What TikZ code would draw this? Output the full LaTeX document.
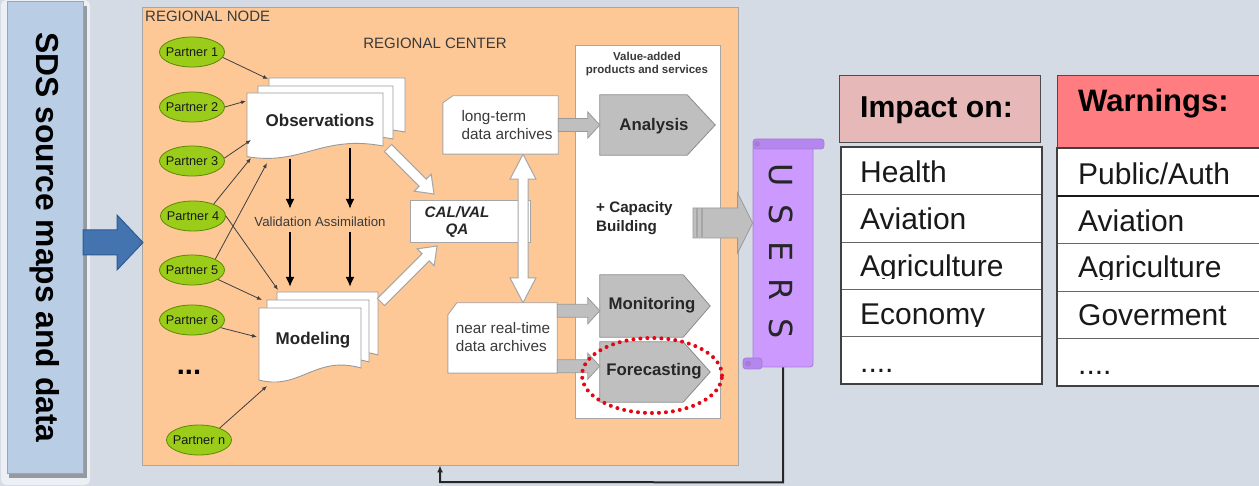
\documentclass[tikz,border=0pt]{standalone}
\usepackage{fontspec}
\setmainfont{Liberation Sans}
\newfontfamily\usersfont[WordSpace=1.7]{DejaVu Sans}
\usetikzlibrary{calc,shapes.geometric,arrows.meta}
\definecolor{bgc}{HTML}{D5DBE5}
\definecolor{panelc}{HTML}{B9CDE5}
\definecolor{panelb}{HTML}{8FA8C8}
\definecolor{bluearr}{HTML}{4474B0}
\definecolor{bluearrb}{HTML}{2F5A8F}
\definecolor{orangec}{HTML}{FDC896}
\definecolor{pgreen}{HTML}{9BCC1A}
\definecolor{pgreenb}{HTML}{5A8A00}
\definecolor{greyarr}{HTML}{BFBFBF}
\definecolor{purplec}{HTML}{CC99FF}
\definecolor{purpleb}{HTML}{A57BD8}
\definecolor{purpled}{HTML}{B586EE}
\definecolor{impc}{HTML}{E6B9B8}
\definecolor{warnc}{HTML}{FF7C80}
\definecolor{txtgrey}{HTML}{3A3A3A}
\definecolor{dotred}{HTML}{E30613}
\newcommand\fs[2]{\fontsize{#1}{#2}\selectfont}
% block arrow: style, from, to, shaft half width, head half width, head length
\newcommand\blockarrow[6]{%
  \coordinate (bahead) at ($(#3)!#6pt!(#2)$);
  \draw[#1] ($(#2)!#4pt!90:(#3)$) -- ($(bahead)!#4pt!90:(#3)$) -- ($(bahead)!#5pt!90:(#3)$) -- (#3)
    -- ($(bahead)!#5pt!-90:(#3)$) -- ($(bahead)!#4pt!-90:(#3)$) -- ($(#2)!#4pt!-90:(#3)$) -- cycle;}
\newcommand\dblockarrow[6]{%
  \coordinate (dahA) at ($(#2)!#6pt!(#3)$);
  \coordinate (dahB) at ($(#3)!#6pt!(#2)$);
  \draw[#1] (#2) -- ($(dahA)!#5pt!90:(#3)$) -- ($(dahA)!#4pt!90:(#3)$) -- ($(dahB)!#4pt!90:(#3)$)
    -- ($(dahB)!#5pt!90:(#3)$) -- (#3) -- ($(dahB)!#5pt!-90:(#3)$) -- ($(dahB)!#4pt!-90:(#3)$)
    -- ($(dahA)!#4pt!-90:(#3)$) -- ($(dahA)!#5pt!-90:(#3)$) -- cycle;}
% document shape: x y w h
\newcommand\docshape[4]{%
  \draw[docst] (#1,#2) -- ({#1+#3},#2) -- ({#1+#3},{#2+#4})
    .. controls ({#1+0.55*#3},{#2+0.78*#4}) and ({#1+0.4*#3},{#2+1.38*#4}) .. (#1,{#2+1.2*#4}) -- cycle;}
% pentagon product shape around a named node: node name, pointer length
\newcommand\prodshape[2]{%
  \draw[prodst] (#1.north west) -- ($(#1.north east)+(-#2,0)$) -- (#1.east) -- ($(#1.south east)+(-#2,0)$) -- (#1.south west) -- cycle;}
\begin{document}
\begin{tikzpicture}[x=1pt,y=-1pt,
  docst/.style={draw=black!40, fill=white, line width=0.9},
  partner/.style={ellipse, draw=pgreenb, fill=pgreen, line width=0.8, minimum width=65pt, minimum height=30pt,
     inner xsep=-4pt, inner ysep=0pt, font=\fs{12.7}{14}, text=black!90},
  pconn/.style={draw=black!75, line width=0.8, -{Latex[length=5pt,width=4pt]}},
  varr/.style={draw=black, line width=2, -{Latex[length=10pt,width=9pt]}},
  warr/.style={draw=black!35, fill=white, line width=1},
  garr/.style={draw=black!40, fill=greyarr, line width=0.8},
  boxst/.style={draw=black!35, fill=white, line width=0.9},
  prodst/.style={draw=black!45, fill=greyarr, line width=0.8},
  prodbox/.style={inner sep=0pt},
  prodtxt/.style={font=\bfseries\fs{16.8}{19}, text=black!85, inner sep=0pt},
  archtxt/.style={font=\fs{15.3}{18}, text=txtgrey, align=left, inner sep=0pt},
  rowbox/.style={draw=black!60, fill=white, line width=1, anchor=north west, inner sep=0pt},
  rowtxt/.style={font=\fs{30}{34}, text=black!90, anchor=base west, inner sep=0pt}]
\useasboundingbox (0,0) rectangle (1259,486);
\clip (0,0) rectangle (1259,486);
\fill[bgc] (0,0) rectangle (1259,486);

% ---------- left panel ----------
\fill[white!55!bgc, rounded corners=5] (1,0) rectangle (90,485);
\fill[black!30!bgc] (9,6) rectangle (87,478);
\node[draw=panelb, fill=panelc, line width=1, minimum width=471pt, minimum height=76pt, rotate=-90,
      font=\bfseries\fs{31.8}{36}, inner sep=0pt] (sds) at (45,237.5) {SDS source maps and data};

% ---------- regional node ----------
\node[draw=black!35, fill=orangec, anchor=north west, minimum width=596pt, minimum height=458pt, inner sep=0pt] (region) at (142,7) {};
\node[font=\fs{15}{18}, text=txtgrey, anchor=west, inner sep=0pt] (rnode) at (145,16) {REGIONAL NODE};
\node[font=\fs{15}{18}, text=txtgrey, inner sep=0pt] (rcenter) at (435,43) {REGIONAL CENTER};

% big blue arrow
\coordinate (ba1) at (83,242.5);
\coordinate (ba2) at (143,242.5);
\blockarrow{draw=bluearrb, fill=bluearr, line width=1}{ba1}{ba2}{12.5}{27.5}{26}

% value-added panel
\node[draw=black!35, fill=white, anchor=north west, minimum width=145pt, minimum height=373pt, inner sep=0pt] (vap) at (575,45) {};
\node[font=\bfseries\fs{11.5}{13.5}, text=txtgrey, align=center, inner sep=0pt] (vaptitle) at (647,64) {Value-added\\products and services};

% document stacks
\docshape{269}{78}{136}{54}
\docshape{258}{86}{135}{53}
\docshape{247}{93}{136}{53}
\node[font=\bfseries\fs{17}{20}, text=black!85, inner sep=0pt] (obs) at (320,120) {Observations};
\docshape{277}{292}{101}{63}
\docshape{267}{300}{102}{62}
\docshape{259}{308}{102}{60}
\node[font=\bfseries\fs{17}{20}, text=black!85, inner sep=0pt] (mod) at (313,340) {Modeling};

% partners
\node[partner] (p1) at (192,52) {Partner 1};
\node[partner] (p2) at (192,107) {Partner 2};
\node[partner] (p3) at (192,161) {Partner 3};
\node[partner] (p4) at (193,216) {Partner 4};
\node[partner] (p5) at (192,270) {Partner 5};
\node[partner] (p6) at (192,320) {Partner 6};
\node[partner] (pn) at (199,440) {Partner n};
\node[font=\bfseries\fs{29}{32}, anchor=base, inner sep=0pt] (dots) at (189,375) {...};

% partner connectors
\coordinate (o1) at (268,79);
\coordinate (o2) at (246,101);
\coordinate (o3) at (251,140);
\coordinate (o4) at (251,158);
\coordinate (o5) at (267,163);
\coordinate (m4) at (278,290);
\coordinate (m5) at (262,300);
\coordinate (m6) at (257,337);
\coordinate (mn) at (267,386);
\draw[pconn] (p1.-10) -- (o1);
\draw[pconn] (p2.east) -- (o2);
\draw[pconn] (p3.5) -- (o3);
\draw[pconn] (p4.30) -- (o4);
\draw[pconn] (p5.25) -- (o5);
\draw[pconn] (p4.east) -- (m4);
\draw[pconn] (p5.-20) -- (m5);
\draw[pconn] (p6.-15) -- (m6);
\draw[pconn] (pn.30) -- (mn);

% validation / assimilation
\node[font=\fs{13.2}{15}, text=txtgrey, inner sep=0pt] (valtxt) at (320,222) {Validation Assimilation};
\coordinate (va1s) at (290,159);
\coordinate (va1e) at (290,209);
\coordinate (va2s) at (350,148);
\coordinate (va2e) at (350,209);
\coordinate (vb1s) at (290,232);
\coordinate (vb1e) at (290,287);
\coordinate (vb2s) at (350,232);
\coordinate (vb2e) at (350,287);
\draw[varr] (va1s) -- (va1e);
\draw[varr] (va2s) -- (va2e);
\draw[varr] (vb1s) -- (vb1e);
\draw[varr] (vb2s) -- (vb2e);

% CAL/VAL box
\node[draw=black!35, fill=white, line width=0.9, minimum width=120pt, minimum height=42pt, inner sep=0pt] (cal) at (470,221) {};
\node[font=\bfseries\itshape\fs{15.2}{17}, align=center, text=black!85, inner sep=0pt] (caltxt) at (457,221.5) {CAL/VAL\\QA};

% white arrows to CAL/VAL
\coordinate (w1a) at (388,148);
\coordinate (w1b) at (434,194);
\blockarrow{warr}{w1a}{w1b}{5}{12}{16}
\coordinate (w2a) at (381,302);
\coordinate (w2b) at (437,246);
\blockarrow{warr}{w2a}{w2b}{5}{12}{16}

% archives
\node[minimum width=115pt, minimum height=58pt, inner sep=0pt] (lt) at (500.5,125) {};
\node[minimum width=109pt, minimum height=70pt, inner sep=0pt] (nrt) at (502.5,338) {};
\coordinate (dax) at (523,0);
\dblockarrow{warr}{lt.south -| dax}{nrt.north -| dax}{5}{13}{25}
\draw[boxst] ($(lt.north west)+(10,0)$) -- (lt.north east) -- (lt.south east) -- (lt.south west) -- ($(lt.north west)+(0,7)$) -- cycle;
\draw[boxst] ($(nrt.north west)+(9,0)$) -- (nrt.north east) -- (nrt.south east) -- (nrt.south west) -- ($(nrt.north west)+(0,12)$) -- cycle;
\node[archtxt] (lttxt) at (507,125) {long-term\\data archives};
\node[archtxt] (nrttxt) at (503,337) {near real-time\\data archives};

% products
\node[prodbox, minimum width=115pt, minimum height=60pt] (ana) at (657.5,125) {};
\node[prodbox, minimum width=110pt, minimum height=62pt] (mon) at (655,306) {};
\node[prodbox, minimum width=110pt, minimum height=60pt] (fore) at (655,372) {};
\prodshape{ana}{28}
\prodshape{mon}{27}
\prodshape{fore}{27}
\node[prodtxt] (anatxt) at (654,126) {Analysis};
\node[prodtxt] (montxt) at (652,305) {Monitoring};
\node[prodtxt] (foretxt) at (654,371) {Forecasting};
\blockarrow{garr}{lt.east}{ana.west}{6.5}{13}{12}
\coordinate (g2) at ($(nrt.north east)+(0,8)$);
\coordinate (g2e) at (g2 -| mon.west);
\blockarrow{garr}{g2}{g2e}{6.5}{13}{12}
\coordinate (g3) at ($(nrt.south east)+(0,-7)$);
\coordinate (g3e) at (g3 -| fore.west);
\blockarrow{garr}{g3}{g3e}{6.5}{13}{12}
\node[draw=dotred, ellipse, line width=4, dash pattern=on 0pt off 7pt, line cap=round,
      minimum width=140pt, minimum height=75pt, inner sep=0pt] (hl) at (652,375.5) {};

% capacity building
\node[font=\bfseries\fs{15.2}{19}, text=black!85, align=left, anchor=west, inner sep=0pt] (cap) at (596,218) {+ Capacity\\Building};

% USERS scroll
\node[draw=purpleb, fill=purplec, rounded corners=3, line width=0.8, minimum width=60pt, minimum height=222pt, inner sep=0pt] (users) at (783,256) {};
\draw[draw=purpleb, fill=purpled, rounded corners=3, line width=0.8] (753,139) rectangle (824,149);
\fill[purpleb] (757,144) circle (3);
\draw[draw=purpleb, fill=purpled, rounded corners=3, line width=0.8] (743,358) rectangle (762,369);
\fill[purpleb] (748,363.5) circle (3);
\node[rotate=-90, font=\usersfont\fs{31.8}{36}, text=black!85, inner sep=0pt] (userstxt) at (781,251) {U S E R S};

\coordinate (ca1) at (693,223);
\coordinate (ca2) at (ca1 -| users.west);
\blockarrow{garr}{ca1}{ca2}{15}{30}{15}
\draw[black!35, line width=1.2] (697,208.5) -- (697,237.5);
\draw[black!35, line width=1.2] (702,208.5) -- (702,237.5);

% feedback connector
\coordinate (fb1) at ($(users.south)+(0,115)$);
\coordinate (fb2) at (440,482);
\draw[line width=2, black!85, -{Latex[length=7pt,width=6pt]}] (users.south) -- (fb1) -- (fb2) -- (fb2 |- region.south);

% ---------- Impact table ----------
\node[draw=black!70, fill=impc, line width=1.2, anchor=north west, minimum width=201pt, minimum height=67pt, inner sep=0pt] (imph) at (839,75) {};
\node[font=\bfseries\fs{30.2}{34}, anchor=base west, inner sep=0pt] (impt) at (860,118) {Impact on:};
\node[rowbox, minimum width=200pt, minimum height=47pt] (ir1) at (841,147) {};
\node[rowbox, minimum width=200pt, minimum height=48pt] (ir2) at (841,194) {};
\node[rowbox, minimum width=200pt, minimum height=47pt] (ir3) at (841,242) {};
\node[rowbox, minimum width=200pt, minimum height=47pt] (ir4) at (841,289) {};
\node[rowbox, minimum width=200pt, minimum height=47pt] (ir5) at (841,336) {};
\draw[black!75, line width=1.3] (ir1.north west) rectangle (ir5.south east);
\node[rowtxt] (it1) at (860,183) {Health};
\node[rowtxt] (it2) at (860,230) {Aviation};
\begin{scope}
\clip (841,242) rectangle (1041,278.5);
\node[rowtxt] (it3) at (860,277) {Agriculture};
\end{scope}
\begin{scope}
\clip (841,289) rectangle (1041,326.5);
\node[rowtxt] (it4) at (860,325) {Economy};
\end{scope}
\node[rowtxt] (it5) at (860,373) {....};

% ---------- Warnings table ----------
\node[draw=black!70, fill=warnc, line width=1.2, anchor=north west, minimum width=210pt, minimum height=72pt, inner sep=0pt] (warnh) at (1057,75) {};
\node[font=\bfseries\fs{31}{34}, anchor=base west, inner sep=0pt] (warnt) at (1078,112) {Warnings:};
\node[rowbox, minimum width=210pt, minimum height=48pt] (wr1) at (1057,148) {};
\node[rowbox, minimum width=210pt, minimum height=47pt] (wr2) at (1057,196) {};
\node[rowbox, minimum width=210pt, minimum height=48pt] (wr3) at (1057,243) {};
\node[rowbox, minimum width=210pt, minimum height=47pt] (wr4) at (1057,291) {};
\node[rowbox, minimum width=210pt, minimum height=47pt] (wr5) at (1057,338) {};
\draw[black!75, line width=1.3] (wr1.north west) rectangle (wr5.south east);
\draw[black!90, line width=2.5] (wr2.north west) -- (wr2.north east);
\node[rowtxt] (wt1) at (1078,185) {Public/Auth};
\node[rowtxt] (wt2) at (1078,232) {Aviation};
\begin{scope}
\clip (1057,243) rectangle (1267,279.5);
\node[rowtxt] (wt3) at (1078,278) {Agriculture};
\end{scope}
\node[rowtxt] (wt4) at (1078,326) {Goverment};
\node[rowtxt] (wt5) at (1078,374) {....};
\end{tikzpicture}
\end{document}
